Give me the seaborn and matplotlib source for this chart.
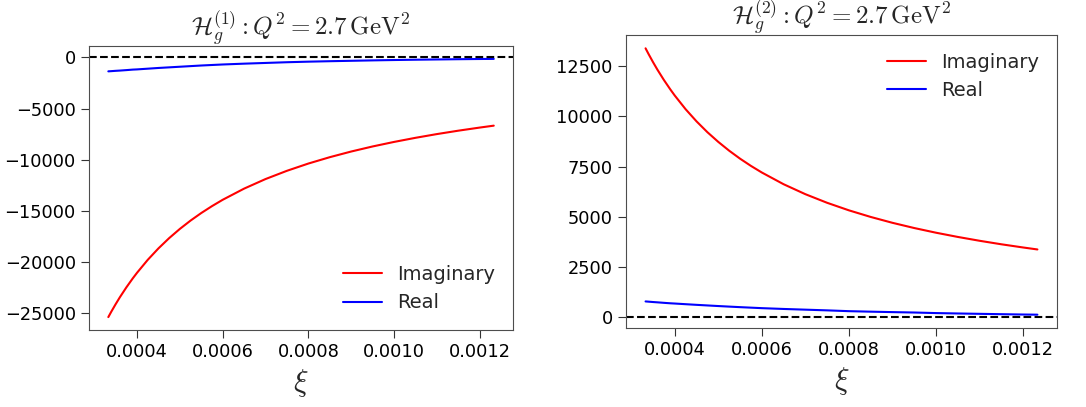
import numpy as np
import pandas as pd
import matplotlib
matplotlib.use("Agg")
import matplotlib.pyplot as plt
from matplotlib.ticker import MultipleLocator
import seaborn as sns

xi = [0.000333, 0.00034, 0.00035, 0.00036, 0.000375, 0.00039, 0.0004, 0.000425,
      0.00045, 0.000475, 0.0005, 0.000525, 0.00055, 0.000575, 0.0006, 0.00065,
      0.0007, 0.00075, 0.0008, 0.00085, 0.0009, 0.00095, 0.001, 0.00105,
      0.0011, 0.00115, 0.0012, 0.001233]

# H_g^(1)
imag_1 = [-25360, -24827, -24105, -23420, -22466, -21584, -21036, -19773,
          -18655, -17653, -16753, -15939, -15201, -14529, -13910, -12820,
          -11886, -11080, -10372, -9751, -9198, -8704, -8262, -7861,
          -7496, -7164, -6860, -6672]
real_1 = [-1370, -1350, -1320, -1295, -1250, -1200, -1180, -1110,
          -1040, -980, -920, -860, -800, -750, -700, -620,
          -550, -480, -425, -380, -340, -300, -265, -235,
          -210, -185, -165, -155]

# H_g^(2)
imag_2 = [13390, 13101, 12707, 12335, 11817, 11340, 11041, 10358,
          9755, 9215, 8732, 8294, 7897, 7537, 7208, 6625,
          6129, 5700, 5325, 4996, 4704, 4444, 4211, 4001,
          3810, 3635, 3476, 3377]
real_2 = [790, 778, 760, 745, 720, 697, 685, 652,
          620, 590, 560, 532, 505, 480, 455, 415,
          380, 345, 305, 280, 258, 238, 210, 190,
          172, 155, 138, 130]

titles = [r"$\mathcal{H}_g^{(1)}: Q^2 = 2.7\,\mathrm{GeV}^2$",
          r"$\mathcal{H}_g^{(2)}: Q^2 = 2.7\,\mathrm{GeV}^2$"]

sns.set_style("ticks")
plt.rcParams["font.family"] = ["DejaVu Sans"]
plt.rcParams["mathtext.fontset"] = "cm"


def make_df(imag, real):
    return pd.DataFrame({
        "xi": xi + xi,
        "value": imag + real,
        "part": ["Imaginary"] * len(xi) + ["Real"] * len(xi),
    })


fig = plt.figure(figsize=(10.86, 4.07), dpi=100)
ax1 = fig.add_axes([0.0820, 0.1892, 0.3904, 0.6978])
ax2 = fig.add_axes([0.5764, 0.1941, 0.3969, 0.7199])

panels = [(ax1, make_df(imag_1, real_1), "lower right", 5000, 1.039),
          (ax2, make_df(imag_2, real_2), "upper right", 2500, 1.037)]

for (ax, df, loc, ystep, ty), title in zip(panels, titles):
    sns.lineplot(data=df, x="xi", y="value", hue="part",
                 palette={"Imaginary": "red", "Real": "blue"},
                 linewidth=1.5, ax=ax)
    ax.axhline(0, color="black", linestyle="--", linewidth=1.5)
    ax.set_xticks([0.0004, 0.0006, 0.0008, 0.0010, 0.0012])
    ax.set_xticklabels(["0.0004", "0.0006", "0.0008", "0.0010", "0.0012"])
    ax.yaxis.set_major_locator(MultipleLocator(ystep))
    ax.tick_params(labelsize=12.8, length=6, color="0.2", labelcolor="black")
    ax.set_xlabel(r"$\xi$", fontsize=22)
    ax.set_ylabel("")
    ax.set_title(title, fontsize=18, y=ty, pad=0)
    ax.legend(loc=loc, frameon=False, fontsize=14, title=None)
    for s in ax.spines.values():
        s.set_color("0.3")

fig.savefig("out.png", dpi=100)
